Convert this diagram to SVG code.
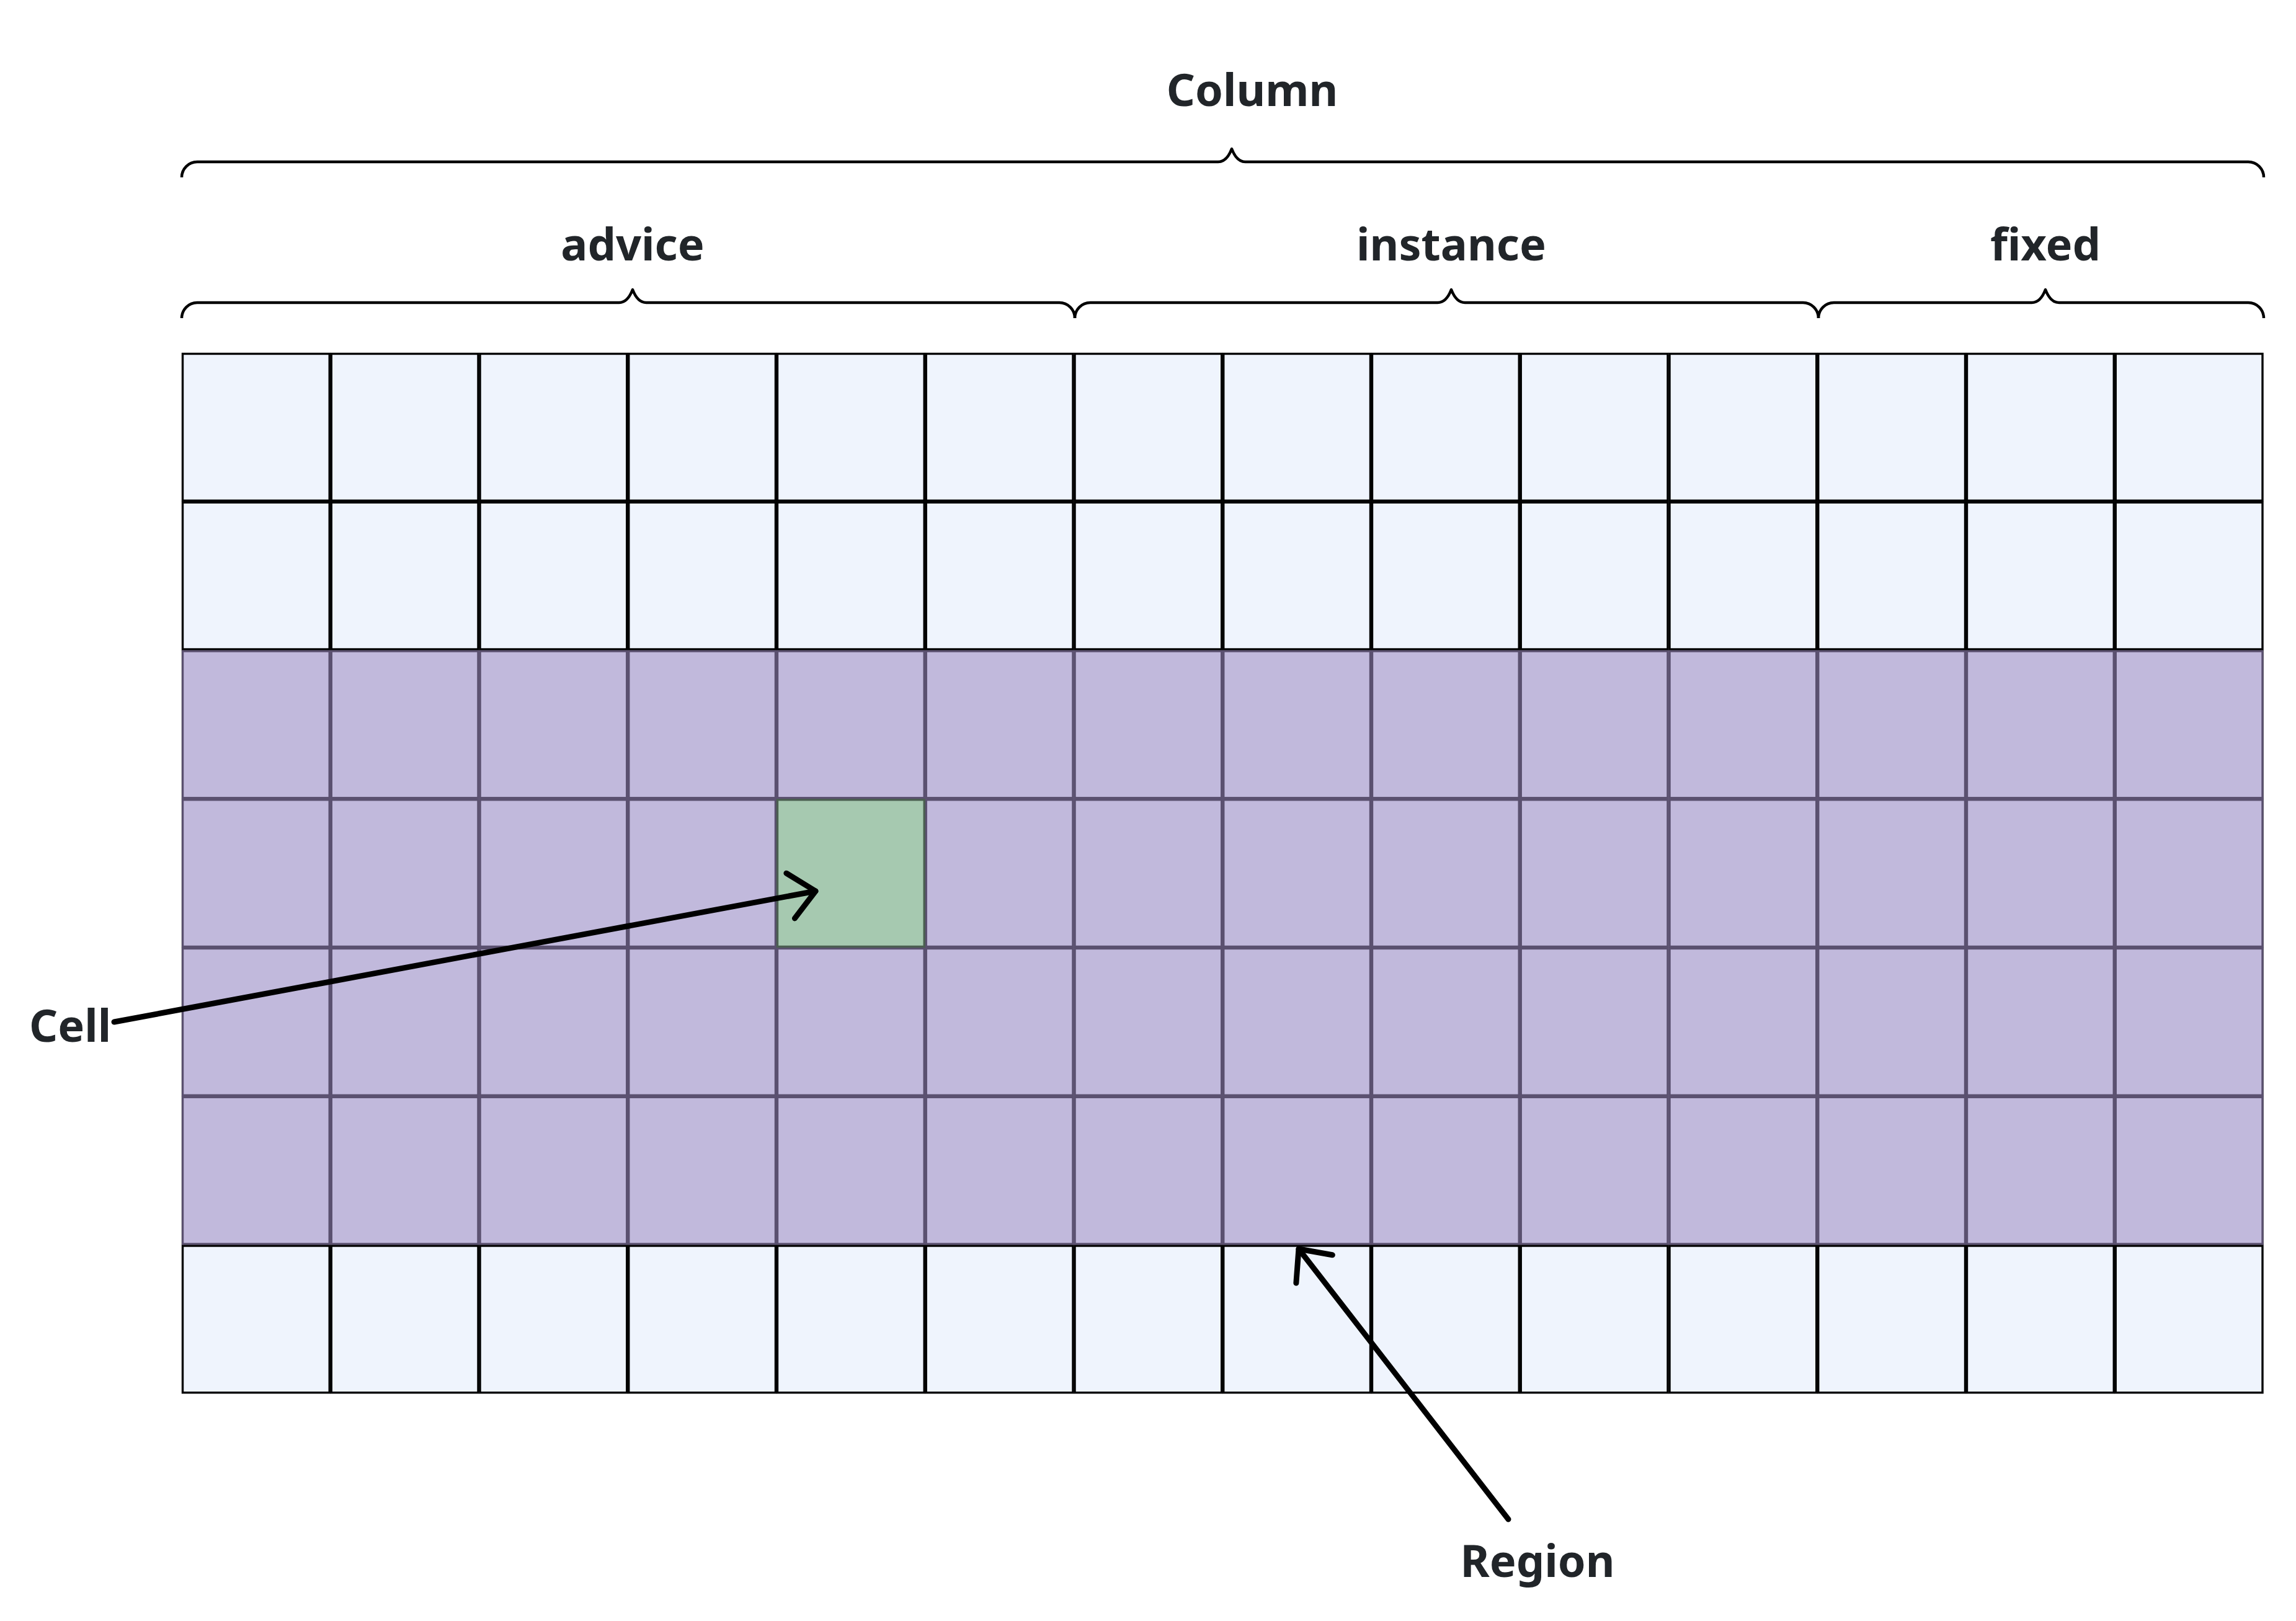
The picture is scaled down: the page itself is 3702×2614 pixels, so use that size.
<svg xmlns="http://www.w3.org/2000/svg" xmlns:xlink="http://www.w3.org/1999/xlink" width="3702" height="2614" viewBox="0 0 3702 2614">
<style>
.c{fill:#EFF4FD;stroke:#000;stroke-width:3.4}
.brace{fill:none;stroke:#000;stroke-width:4.5;stroke-linejoin:round}
.lbl{font-family:"Noto Sans","Open Sans",sans-serif;font-weight:700;font-size:72px;fill:#212529}
.conn{fill:none;stroke:#000;stroke-width:9;stroke-linecap:round}
</style>
<defs>
<marker id="chev" markerUnits="userSpaceOnUse" orient="auto" refX="0" refY="0" markerWidth="120" markerHeight="120" viewBox="-60 -60 120 120" overflow="visible">
<path d="M-41,-37 L0,0 L-41,37" fill="none" stroke="#000" stroke-width="9" stroke-linecap="round" stroke-linejoin="round"/>
</marker>
<g id="row">
<rect class="c" x="294.5" y="0" width="236.75" height="236.75"/>
<rect class="c" x="534.25" y="0" width="236.75" height="236.75"/>
<rect class="c" x="774" y="0" width="236.75" height="236.75"/>
<rect class="c" x="1013.75" y="0" width="236.75" height="236.75"/>
<rect class="c" x="1253.5" y="0" width="236.75" height="236.75"/>
<rect class="c" x="1493.25" y="0" width="236.75" height="236.75"/>
<rect class="c" x="1733" y="0" width="236.75" height="236.75"/>
<rect class="c" x="1972.75" y="0" width="236.75" height="236.75"/>
<rect class="c" x="2212.5" y="0" width="236.75" height="236.75"/>
<rect class="c" x="2452.25" y="0" width="236.75" height="236.75"/>
<rect class="c" x="2692" y="0" width="236.75" height="236.75"/>
<rect class="c" x="2931.75" y="0" width="236.75" height="236.75"/>
<rect class="c" x="3171.5" y="0" width="236.75" height="236.75"/>
<rect class="c" x="3411.25" y="0" width="236.75" height="236.75"/>
</g>
</defs>
<rect width="3702" height="2614" fill="#fff"/>

<g id="column-brace">
<path class="brace" d="M293,286 A25,25 0 0 1 318,261 H1964 Q1978,261 1986,240 Q1994,261 2008,261 H3625 A25,25 0 0 1 3650,286"/>
<text class="lbl" x="2019" y="171" text-anchor="middle">Column</text>
</g>
<g id="advice-brace">
<path class="brace" d="M293,513 A25,25 0 0 1 318,488 H998 Q1012,488 1020,467 Q1028,488 1042,488 H1708 A25,25 0 0 1 1733,513"/>
<text class="lbl" x="1020" y="420" text-anchor="middle">advice</text>
</g>
<g id="instance-brace">
<path class="brace" d="M1733,513 A25,25 0 0 1 1758,488 H2318 Q2332,488 2340,467 Q2348,488 2362,488 H2907 A25,25 0 0 1 2932,513"/>
<text class="lbl" x="2340" y="420" text-anchor="middle">instance</text>
</g>
<g id="fixed-brace">
<path class="brace" d="M2932,513 A25,25 0 0 1 2957,488 H3276 Q3290,488 3298,467 Q3306,488 3320,488 H3625 A25,25 0 0 1 3650,513"/>
<text class="lbl" x="3298" y="420" text-anchor="middle">fixed</text>
</g>

<g id="grid">
<use xlink:href="#row" y="570.5"/>
<use xlink:href="#row" y="810.25"/>
<use xlink:href="#row" y="1050"/>
<use xlink:href="#row" y="1289.75"/>
<use xlink:href="#row" y="1529.5"/>
<use xlink:href="#row" y="1769.25"/>
<use xlink:href="#row" y="2009"/>
</g>

<g id="region">
<rect x="293" y="1048.5" width="3356.5" height="959" fill="#9E8CC4" fill-opacity="0.57"/>
</g>
<g id="cell">
<rect x="1253.5" y="1289.75" width="236.75" height="236.75" fill="#A6C9B0" stroke="#4B5F51" stroke-width="3.4"/>
</g>

<g id="connectors">
<path class="conn" d="M184,1648 L1315,1437" marker-end="url(#chev)"/>
<path class="conn" d="M2432,2450 L2094,2014" marker-end="url(#chev)"/>
</g>

<g id="label-cell">
<text class="lbl" x="47" y="1680">Cell</text>
</g>
<g id="label-region">
<text class="lbl" x="2479" y="2543" text-anchor="middle">Region</text>
</g>
</svg>
